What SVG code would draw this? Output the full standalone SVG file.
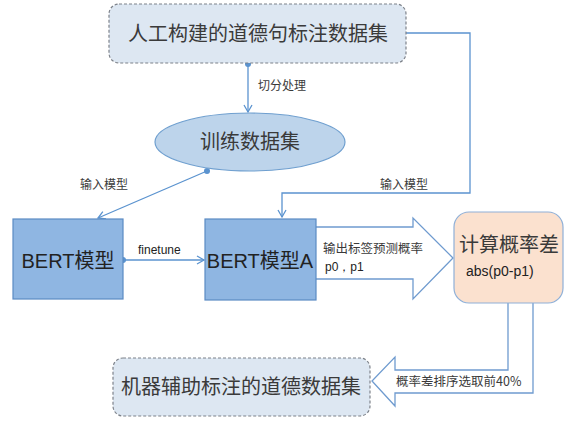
<svg xmlns="http://www.w3.org/2000/svg" width="566" height="421" viewBox="0 0 566 421">
<style>
.cjk{font-family:"Noto Sans CJK SC","Liberation Sans",sans-serif;fill:#3a3a3a}
.lat{font-family:"Liberation Sans",Arial,sans-serif;fill:#222}
.ln{stroke:#5b93cf;stroke-width:1.3;fill:none}
.dash{fill:#dde7f2;stroke:#7d828a;stroke-width:1.2;stroke-dasharray:3 2}
.bert{fill:#8fb6e2;stroke:#5b8bc4;stroke-width:1.2}
.fat{fill:#fff;stroke:#6f9bcf;stroke-width:1.3}
</style>
<defs>
<marker id="ah" markerWidth="10" markerHeight="10" refX="8" refY="5" orient="auto" markerUnits="userSpaceOnUse">
<path d="M1,1 L8,5 L1,9" fill="none" stroke="#5b93cf" stroke-width="1.3"/>
</marker>
<marker id="dot" markerWidth="8" markerHeight="8" refX="4" refY="4" markerUnits="userSpaceOnUse">
<circle cx="4" cy="4" r="3" fill="#5b93cf"/>
</marker>
</defs>
<rect width="566" height="421" fill="#fff"/>
<g id="connectors">
<path class="ln" d="M248,64 L248,112" marker-start="url(#dot)" marker-end="url(#ah)"/>
<path class="ln" d="M406,33 L470,33 L470,193 L282,193 L282,217" marker-end="url(#ah)"/>
<path class="ln" d="M207,171 L98,218" marker-start="url(#dot)" marker-end="url(#ah)"/>
<path class="ln" d="M123,260 L204,260" marker-start="url(#dot)" marker-end="url(#ah)"/>
<path class="fat" d="M316,227 L413,227 L413,218 L453,258 L413,299 L413,279 L316,279"/>
<path class="fat" d="M533,303 L533,393 L395,393 L395,406 L372,381 L395,357 L395,370 L508,370 L508,303"/>
<text class="cjk" x="258" y="90" font-size="12">切分处理</text>
<text class="cjk" x="80" y="189" font-size="12">输入模型</text>
<text class="cjk" x="380" y="189" font-size="12">输入模型</text>
<text class="lat" x="138" y="254" font-size="12">finetune</text>
<text class="cjk" x="323" y="253" font-size="12.5">输出标签预测概率</text>
<text class="lat" x="325" y="271" font-size="12">p0，p1</text>
<text class="cjk" x="396" y="386" font-size="12.5">概率差排序选取前40%</text>
</g>
<g id="top">
<rect class="dash" x="109" y="4" width="297" height="59" rx="10"/>
<text class="cjk" x="258" y="41" font-size="20" text-anchor="middle">人工构建的道德句标注数据集</text>
</g>
<g id="train">
<ellipse cx="250" cy="142" rx="95" ry="29" fill="#bdd4eb" stroke="#6f9fcf" stroke-width="1.2"/>
<text class="cjk" x="250" y="149" font-size="20" text-anchor="middle">训练数据集</text>
</g>
<g id="bert">
<rect class="bert" x="13" y="219" width="110" height="80"/>
<text x="68" y="268" font-size="20" text-anchor="middle" font-family="Liberation Sans,'Noto Sans CJK SC',sans-serif" fill="#222">BERT模型</text>
</g>
<g id="bertA">
<rect class="bert" x="205" y="219" width="111" height="81"/>
<text x="260" y="268" font-size="20" text-anchor="middle" font-family="Liberation Sans,'Noto Sans CJK SC',sans-serif" fill="#222">BERT模型A</text>
</g>
<g id="calc">
<rect x="454" y="212" width="109" height="91" rx="15" fill="#fbe1cf" stroke="#8fb0d8" stroke-width="1.2"/>
<text class="cjk" x="509" y="252" font-size="20" text-anchor="middle">计算概率差</text>
<text class="lat" x="466" y="276" font-size="14">abs(p0-p1)</text>
</g>
<g id="out">
<rect class="dash" x="113" y="358" width="257" height="58" rx="10"/>
<text class="cjk" x="241" y="394" font-size="20" text-anchor="middle">机器辅助标注的道德数据集</text>
</g>
</svg>
